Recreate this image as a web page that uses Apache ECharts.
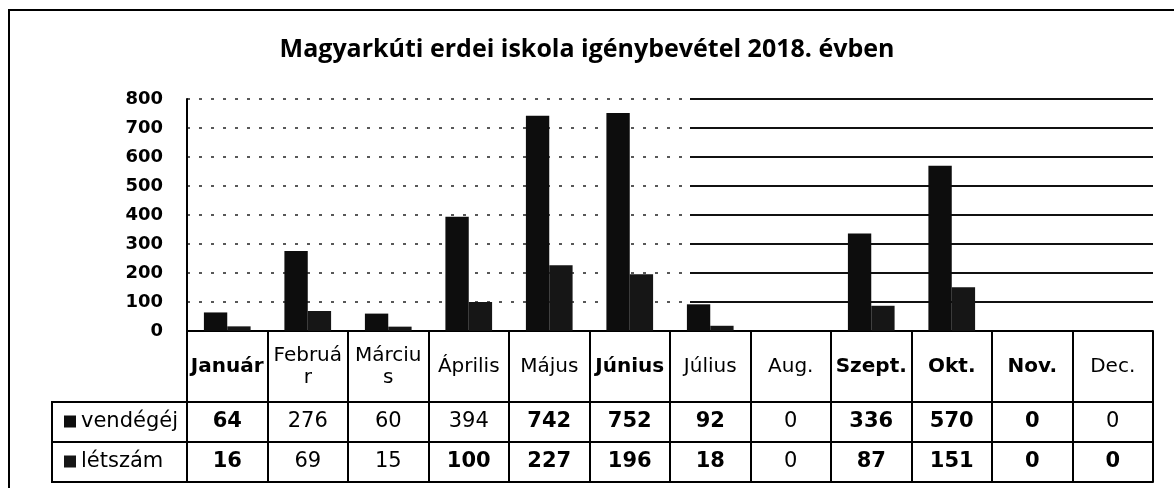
<!DOCTYPE html>
<html>
<head>
<meta charset="utf-8">
<script src="https://cdn.jsdelivr.net/npm/echarts@6/dist/echarts.min.js"></script>
<style>
html, body { margin: 0; padding: 0; background: #fff; }
#chart { width: 1174px; height: 488px; }
</style>
</head>
<body>
<div id="chart"></div>
<script>
var categories = ['Január', 'Február', 'Március', 'Április', 'Május', 'Június', 'Július', 'Aug.', 'Szept.', 'Okt.', 'Nov.', 'Dec.'];
// header text as printed in the table (two months wrap)
var headerLabels = ['Január', 'Februá\nr', 'Márciu\ns', 'Április', 'Május', 'Június', 'Július', 'Aug.', 'Szept.', 'Okt.', 'Nov.', 'Dec.'];
var vendegej = [64, 276, 60, 394, 742, 752, 92, 0, 336, 570, 0, 0];
var letszam = [16, 69, 15, 100, 227, 196, 18, 0, 87, 151, 0, 0];
var seriesNames = ['vendégéj', 'létszám'];
var yMin = 0, yMax = 800, yStep = 100;

// cells that look bold in the scan
var boldHeader = [0, 5, 8, 9, 10];
var boldV = [0, 4, 5, 6, 8, 9, 10];
var boldL = [0, 3, 4, 5, 6, 8, 9, 10, 11];

var FONT = 'DejaVu Sans';
var rich = {
	b: { fontFamily: FONT, fontSize: 20, fontWeight: 'bold', color: '#000', lineHeight: 22 },
	n: { fontFamily: FONT, fontSize: 20, fontWeight: 'normal', color: '#000', lineHeight: 22 }
};
var richNum = {
	b: { fontFamily: FONT, fontSize: 21, fontWeight: 'bold', color: '#000', lineHeight: 22 },
	n: { fontFamily: FONT, fontSize: 21, fontWeight: 'normal', color: '#000', lineHeight: 22 }
};

function cellFormatter(boldList) {
	return function (value, i) {
		var tag = boldList.indexOf(i) >= 0 ? 'b' : 'n';
		return String(value).split('\n').map(function (l) {
			return '{' + tag + '|' + l + '}';
		}).join('\n');
	};
}

function tableAxis(offset, tickLen, labels, boldList, margin, richStyle) {
	return {
		type: 'category',
		gridIndex: 0,
		position: 'bottom',
		offset: offset,
		data: labels,
		axisLine: { show: true, lineStyle: { color: '#000', width: 2 } },
		axisTick: { show: tickLen > 0, length: tickLen, interval: 0, lineStyle: { color: '#000', width: 2 } },
		axisLabel: {
			show: !!boldList,
			interval: 0,
			margin: margin,
			verticalAlign: 'middle',
			formatter: boldList ? cellFormatter(boldList) : null,
			rich: richStyle
		},
		splitLine: { show: false }
	};
}

var chart = echarts.init(document.getElementById('chart'));
chart.setOption({
	animation: false,
	title: {
		text: 'Magyarkúti erdei iskola igénybevétel 2018. évben',
		left: 'center',
		top: 32,
		textStyle: { fontFamily: 'Open Sans', fontSize: 25, fontWeight: 'bold', color: '#000' }
	},
	legend: {
		data: seriesNames,
		orient: 'vertical',
		left: 64,
		top: 411,
		padding: 0,
		itemWidth: 12,
		itemHeight: 12,
		itemGap: 19,
		icon: 'rect',
		textStyle: { fontFamily: FONT, fontSize: 21, lineHeight: 21, color: '#000' }
	},
	grid: [
		{ left: 187, right: 21, top: 99, bottom: 157 },
		{ left: 690, right: 21, top: 99, bottom: 157 }
	],
	xAxis: [
		tableAxis(0, 71, headerLabels, boldHeader, 36, rich),
		tableAxis(71, 40, vendegej, boldV, 20, richNum),
		tableAxis(111, 40, letszam, boldL, 20, richNum),
		tableAxis(151, 0, categories, null, 0, rich),
		{ type: 'category', gridIndex: 1, data: categories, show: false }
	],
	yAxis: [
		{
			type: 'value',
			gridIndex: 0,
			min: yMin,
			max: yMax,
			interval: yStep,
			axisLine: { show: true, lineStyle: { color: '#000', width: 2 } },
			axisTick: { show: false },
			axisLabel: { margin: 24, fontFamily: FONT, fontSize: 18, fontWeight: 'bold', color: '#000' },
			splitLine: { lineStyle: { color: '#222', width: 1.5, type: [3, 9] } }
		},
		{
			type: 'value',
			gridIndex: 1,
			min: yMin,
			max: yMax,
			interval: yStep,
			axisLine: { show: false },
			axisTick: { show: false },
			axisLabel: { show: false },
			splitLine: { lineStyle: { color: '#111', width: 2 } }
		}
	],
	series: [
		{
			name: seriesNames[0],
			type: 'bar',
			data: vendegej,
			barGap: '0%',
			barCategoryGap: '42%',
			itemStyle: { color: '#0d0d0d' }
		},
		{
			name: seriesNames[1],
			type: 'bar',
			data: letszam,
			barGap: '0%',
			barCategoryGap: '42%',
			itemStyle: { color: '#161616' }
		}
	],
	graphic: [
		// outer frame of the scanned sheet
		{ type: 'rect', shape: { x: 9, y: 10, width: 1200, height: 500 }, style: { fill: null, stroke: '#000', lineWidth: 2 }, silent: true },
		// row-header cells of the data table
		{ type: 'line', shape: { x1: 52, y1: 402, x2: 188, y2: 402 }, style: { stroke: '#000', lineWidth: 2 } },
		{ type: 'line', shape: { x1: 52, y1: 442, x2: 188, y2: 442 }, style: { stroke: '#000', lineWidth: 2 } },
		{ type: 'line', shape: { x1: 52, y1: 482, x2: 188, y2: 482 }, style: { stroke: '#000', lineWidth: 2 } },
		{ type: 'line', shape: { x1: 52, y1: 401, x2: 52, y2: 483 }, style: { stroke: '#000', lineWidth: 2 } }
	]
});
</script>
</body>
</html>
